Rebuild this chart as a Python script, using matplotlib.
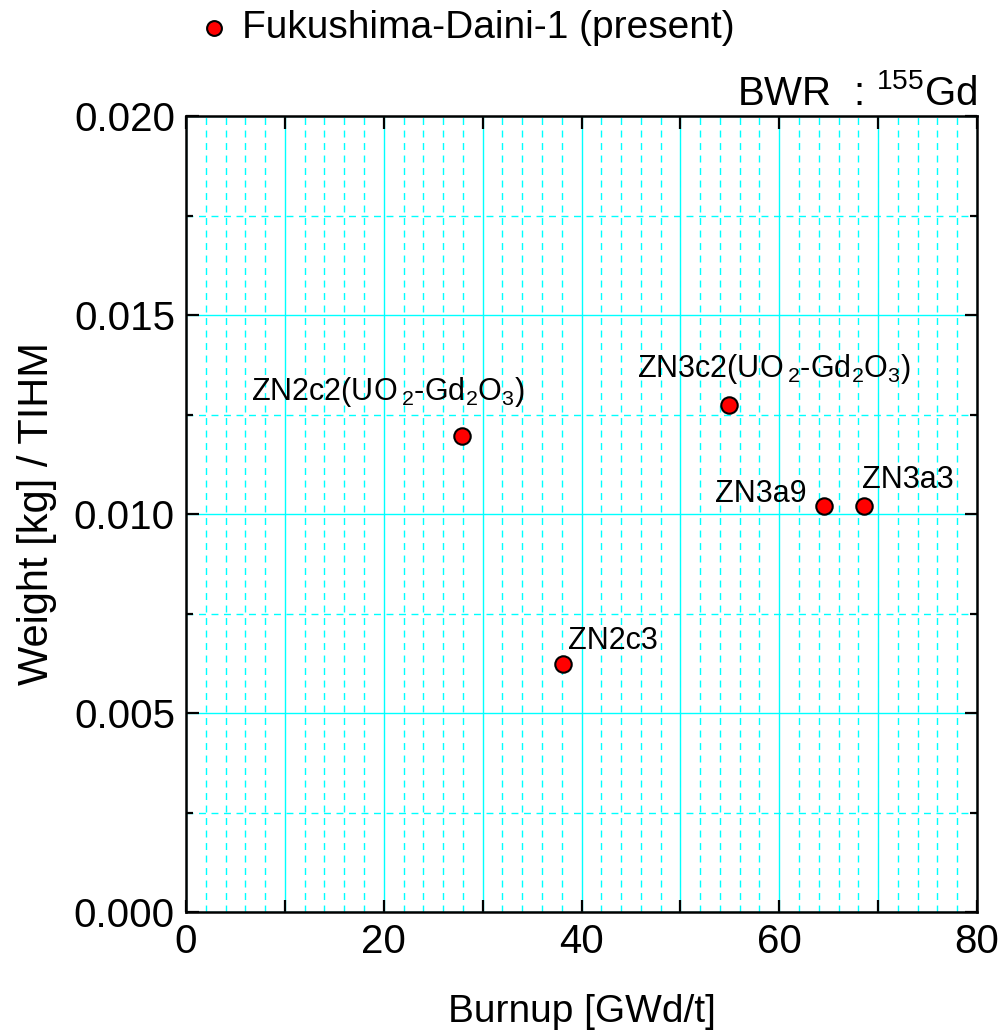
import matplotlib
matplotlib.use("Agg")
import matplotlib.pyplot as plt
from matplotlib.ticker import MultipleLocator, FuncFormatter

plt.rcParams['font.family'] = ['Liberation Sans', 'DejaVu Sans']
plt.rcParams['mathtext.fontset'] = 'custom'
plt.rcParams['mathtext.rm'] = 'Liberation Sans'
plt.rcParams['mathtext.it'] = 'Liberation Sans:italic'
plt.rcParams['mathtext.default'] = 'rm'

# data
names = [r'ZN2c2(UO$\,_2$-Gd$_2$O$_3$)', 'ZN2c3', r'ZN3c2(UO$\,_2$-Gd$_2$O$_3$)', 'ZN3a9', 'ZN3a3']
burnup = [27.9, 38.1, 54.9, 64.5, 68.6]
weight = [0.01196, 0.00622, 0.01274, 0.0102, 0.0102]
# label offsets in pixels (dx, dy) and alignment
offsets = [(-74, 36), (5, 15), (45, 28), (-17, 4), (-2, 18)]
aligns = ['center', 'left', 'center', 'right', 'left']

fig = plt.figure(figsize=(10.06, 10.35), dpi=100)
ax = fig.add_axes([0.1849, 0.1188, 0.9712 - 0.1849, 0.8879 - 0.1188])

ax.set_xlim(0, 80)
ax.set_ylim(0, 0.02)

ax.xaxis.set_major_locator(MultipleLocator(10))
ax.xaxis.set_minor_locator(MultipleLocator(2))
ax.xaxis.set_major_formatter(FuncFormatter(lambda v, p: f"{v:.0f}" if round(v) % 20 == 0 else ""))
ax.yaxis.set_major_locator(MultipleLocator(0.005))
ax.yaxis.set_minor_locator(MultipleLocator(0.0025))
ax.yaxis.set_major_formatter(FuncFormatter(lambda v, p: f"{v:.3f}"))

ax.grid(which='major', color='#00FFFF', linewidth=1.0, linestyle='-')
ax.grid(which='minor', color='#00FFFF', linewidth=1.0, linestyle=(0, (5, 4)))
ax.set_axisbelow(True)

ax.tick_params(axis='both', which='major', direction='in', length=9, width=1.6,
               top=True, right=True, labelsize=29, pad=8)
ax.tick_params(axis='y', which='minor', direction='in', length=5, width=1.6, right=True)
ax.tick_params(axis='x', which='minor', length=0)
for s in ax.spines.values():
    s.set_linewidth(1.8)

sc = ax.scatter(burnup, weight, s=140, c='#FF0000', edgecolors='black', linewidths=1.5,
                zorder=5, label='Fukushima-Daini-1 (present)', clip_on=False)

for n, x, y, (dx, dy), ha in zip(names, burnup, weight, offsets, aligns):
    ax.annotate(n, (x, y), xytext=(dx * 0.72, dy * 0.72), textcoords='offset points',
                ha=ha, va='baseline', fontsize=22)

ax.set_xlabel('Burnup [GWd/t]', fontsize=28, labelpad=24)
ax.set_ylabel('Weight [kg] / TIHM', fontsize=30, labelpad=12)

fig.text(0.9712, 1 - 105 / 1035, r'BWR  : $^{155}$Gd', ha='right', va='baseline', fontsize=29)

fig.legend(handles=[sc], loc='center left', bbox_to_anchor=(195 / 1006, 1 - 28 / 1035),
           frameon=False, fontsize=28, handlelength=1.0, handletextpad=0.2,
           borderpad=0, borderaxespad=0, markerscale=0.9)

fig.savefig('out.png', dpi=100)
